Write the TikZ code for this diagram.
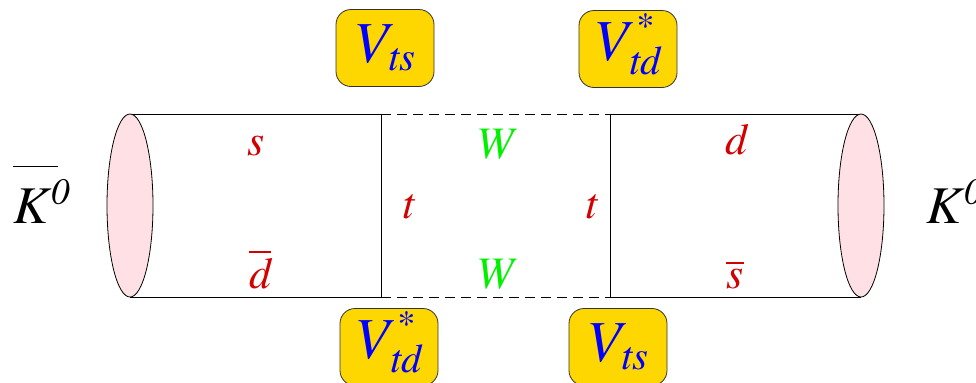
\documentclass[tikz,border=0pt]{standalone}
\usepackage{amsmath}
\usepackage{fontspec}
\setmainfont{texgyretermes}[Extension=.otf, UprightFont=*-regular, ItalicFont=*-italic, BoldFont=*-bold, BoldItalicFont=*-bolditalic]
\usetikzlibrary{positioning}
\definecolor{quarkred}{RGB}{210,0,0}
\definecolor{wgreen}{RGB}{0,240,0}
\definecolor{ckmgold}{RGB}{255,215,0}
\definecolor{mesonpink}{RGB}{255,224,228}
\newcommand{\ti}[1]{\textit{#1}}
\newcommand{\cstar}{\smash{\hspace{2.5pt}\raisebox{0.5pt}{\fontsize{18}{18}\selectfont\itshape *}}}

\begin{document}
\begin{tikzpicture}[x=0.5pt, y=-0.5pt, every node/.style={inner sep=0pt},
  quark/.style={text=quarkred, font=\fontsize{22}{26}\selectfont, anchor=base},
  boson/.style={text=wgreen, font=\fontsize{22.5}{26}\selectfont, anchor=base},
  ckm/.style={draw=black!80, fill=ckmgold, rounded corners=7.5pt,
    minimum width=49pt, minimum height=38.5pt, text=blue,
    font=\fontsize{29}{32}\selectfont},
  meson/.style={font=\fontsize{26.5}{30}\selectfont, anchor=base west},
  wline/.style={dash pattern=on 5pt off 3pt}]

\useasboundingbox (0,0) rectangle (976,382);

% quark lines and W lines
\draw (130,114) -- (381,114);
\draw[wline] (381,114) -- (610,114);
\draw (610,114) -- (861,114);
\draw (130,297) -- (381,297);
\draw[wline] (381,297) -- (610,297);
\draw (610,297) -- (861,297);
\draw (381,114) -- (381,297);
\draw (610,114) -- (610,297);

% mesons
\draw[fill=mesonpink] (130,205.5) ellipse (11.5pt and 45.75pt);
\draw[fill=mesonpink] (861,205.5) ellipse (11.5pt and 45.75pt);
\node[meson] (kbar) at (13,223) {\rlap{\rule[1.05em]{0.85em}{0.7pt}}\ti{K}$^{\ti{0}}$};
\node[meson] (k) at (926,223) {\ti{K}$^{\ti{0}}$};

% labels
\node[quark] (s1) at (256,155) {\ti{s}};
\node[quark] (d1) at (260,288) {$\overline{\ti{d}}$};
\node[quark] (t1) at (409,218) {\ti{t}};
\node[quark] (t2) at (592,218) {\ti{t}};
\node[boson] (w1) at (497,158) {\ti{W}};
\node[boson] (w2) at (497,288) {\ti{W}};
\node[quark] (d2) at (737,154) {\ti{d}};
\node[quark] (s2) at (735,288) {$\overline{\ti{s}}$};

% CKM factors
\node[ckm] (vts1) at (385,48) {$\ti{V}_{\ti{ts}}$};
\node[ckm] (vtd1) at (628,49) {$\ti{V}_{\ti{td}}^{\cstar}$};
\node[ckm] (vtd2) at (389,347) {$\ti{V}_{\ti{td}}^{\cstar}$};
\node[ckm] (vts2) at (618,347) {$\ti{V}_{\ti{ts}}$};

\end{tikzpicture}
\end{document}
